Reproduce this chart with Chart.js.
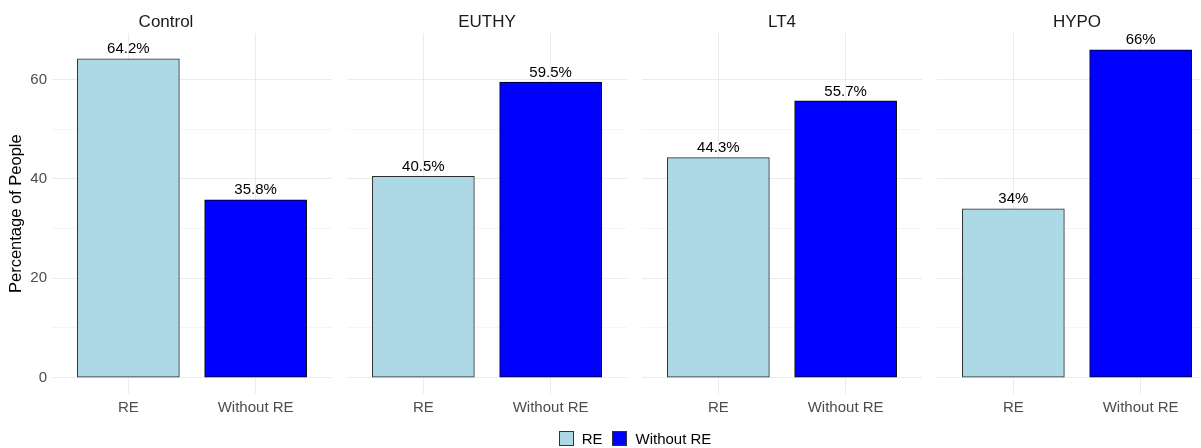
<!DOCTYPE html>
<html>
<head>
<meta charset="utf-8">
<script src="https://cdn.jsdelivr.net/npm/chart.js@4/dist/chart.umd.min.js"></script>
<style>
  body { margin: 0; width: 1201px; height: 448px; overflow: hidden; background: #fff; position: relative; font-family: "Liberation Sans", Arial, sans-serif; }
  .panel { position: absolute; top: 0; }
  #legend { position: absolute; top: 430px; left: 0; width: 1270px; display: flex; justify-content: center; align-items: center; font-size: 15px; color: #000; }
  #legend span.box { display: inline-block; width: 15px; height: 15px; border: 1px solid #333; margin-right: 8px; box-sizing: border-box; }
  #legend span.lab { margin-right: 10px; }
  #legend span.lab:last-child { margin-right: 0; }
</style>
</head>
<body>
<div class="panel" style="left:0px"><canvas id="p0"></canvas></div>
<div class="panel" style="left:347px"><canvas id="p1"></canvas></div>
<div class="panel" style="left:642px"><canvas id="p2"></canvas></div>
<div class="panel" style="left:937px"><canvas id="p3"></canvas></div>
<div id="legend"></div>
<script>
const groups = ["Control", "EUTHY", "LT4", "HYPO"];
const categories = ["RE", "Without RE"];
const reValues = [64.2, 40.5, 44.3, 34];
const withoutReValues = [35.8, 59.5, 55.7, 66];
const colors = ["#ADD8E6", "#0000FF"];

const FONT = "'Liberation Sans', Arial, sans-serif";

// percent labels on top of bars
const barLabels = {
  id: 'barLabels',
  afterDatasetsDraw(chart) {
    const ctx = chart.ctx;
    const meta = chart.getDatasetMeta(0);
    ctx.save();
    ctx.font = "15px " + FONT;
    ctx.fillStyle = "#000";
    ctx.textAlign = "center";
    ctx.textBaseline = "bottom";
    meta.data.forEach((bar, i) => {
      const v = chart.data.datasets[0].data[i].y;
      ctx.fillText(v + "%", bar.x, bar.y - 2);
    });
    ctx.restore();
  }
};

groups.forEach((g, gi) => {
  const first = gi === 0;
  const vals = [reValues[gi], withoutReValues[gi]];
  const canvas = document.getElementById("p" + gi);
  const w = first ? 332 : 280;
  canvas.width = w; canvas.height = 448;
  canvas.style.width = w + "px"; canvas.style.height = "448px";

  new Chart(canvas, {
    type: "bar",
    data: {
      datasets: [{
        data: vals.map((v, i) => ({ x: i + 1, y: v })),
        backgroundColor: colors,
        borderColor: ["#2b2b2b", "#000000"],
        borderWidth: 1,
        borderSkipped: false,
        barThickness: 102
      }]
    },
    options: {
      responsive: false,
      animation: false,
      layout: { padding: 0 },
      scales: {
        x: {
          type: "linear",
          min: 0.4,
          max: 2.6,
          offset: false,
          border: { display: false },
          grid: { color: "#EBEBEB", drawTicks: false, offset: false },
          ticks: {
            stepSize: 1,
            includeBounds: false,
            padding: 5,
            color: "#4D4D4D",
            font: { size: 15, family: FONT },
            callback: v => categories[v - 1]
          },
          afterFit: axis => { axis.height = 54; }
        },
        y: {
          min: -3.3,
          max: 69.3,
          border: { display: false },
          grid: {
            drawTicks: false,
            color: c => (c.tick && c.tick.value % 20 === 0) ? "#EBEBEB" : "#F5F5F5"
          },
          ticks: {
            display: first,
            stepSize: 10,
            includeBounds: false,
            padding: 5,
            color: "#4D4D4D",
            font: { size: 15, family: FONT },
            callback: v => v % 20 === 0 ? v : ""
          },
          title: {
            display: first,
            text: "Percentage of People",
            color: "#000",
            font: { size: 16.5, family: FONT },
            padding: { top: 7, bottom: 0 }
          },
          afterFit: axis => { axis.width = first ? 52 : 0; }
        }
      },
      plugins: {
        legend: { display: false },
        tooltip: { enabled: false },
        title: {
          display: true,
          text: g,
          color: "#1A1A1A",
          font: { size: 17, weight: "normal", family: FONT },
          padding: { top: 12, bottom: 1 }
        }
      }
    },
    plugins: [barLabels]
  });
});

// legend
const legend = document.getElementById("legend");
categories.forEach((c, i) => {
  const box = document.createElement("span");
  box.className = "box";
  box.style.background = colors[i];
  const lab = document.createElement("span");
  lab.className = "lab";
  lab.textContent = c;
  legend.appendChild(box);
  legend.appendChild(lab);
});
</script>
</body>
</html>
